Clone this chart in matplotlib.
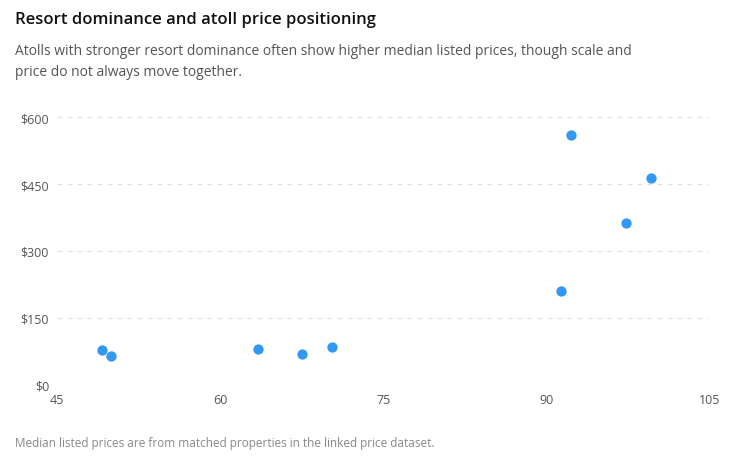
import matplotlib.pyplot as plt

resort_share = [49.1, 49.9, 63.5, 67.5, 70.3, 91.4, 92.3, 97.3, 99.6]
median_price = [78, 65, 80, 69, 85, 210, 561, 362, 463]

x_ticks = [45, 60, 75, 90, 105]
y_ticks = [0, 150, 300, 450, 600]

plt.rcParams['font.family'] = ['Segoe UI', 'Open Sans', 'DejaVu Sans']

fig = plt.figure(figsize=(7.45, 4.6), dpi=100)
ax = fig.add_axes([0.077, 0.162, 0.875, 0.6])

ax.scatter(resort_share, median_price, s=55, color='#3399f0', zorder=3, linewidths=0)

ax.set_xlim(45, 105)
ax.set_ylim(0, 620)
ax.set_xticks(x_ticks)
ax.set_yticks(y_ticks)
ax.set_yticklabels(['$%d' % v for v in y_ticks])
ax.grid(axis='y', color='#e3e3e3', linestyle=(0, (4, 4)), linewidth=0.9)
ax.set_axisbelow(True)
for sp in ax.spines.values():
    sp.set_visible(False)
ax.tick_params(length=0, labelsize=9, colors='#555555', pad=6)

fig.text(0.02, 0.957, 'Resort dominance and atoll price positioning',
         fontsize=12, color='#111111', va='center', fontweight='semibold')
fig.text(0.02, 0.865, 'Atolls with stronger resort dominance often show higher median listed prices, though scale and\nprice do not always move together.',
         fontsize=10, color='#555555', va='center', linespacing=1.5)
fig.text(0.02, 0.035, 'Median listed prices are from matched properties in the linked price dataset.',
         fontsize=8.5, color='#888888', va='center')

fig.savefig('out.png', dpi=100)
